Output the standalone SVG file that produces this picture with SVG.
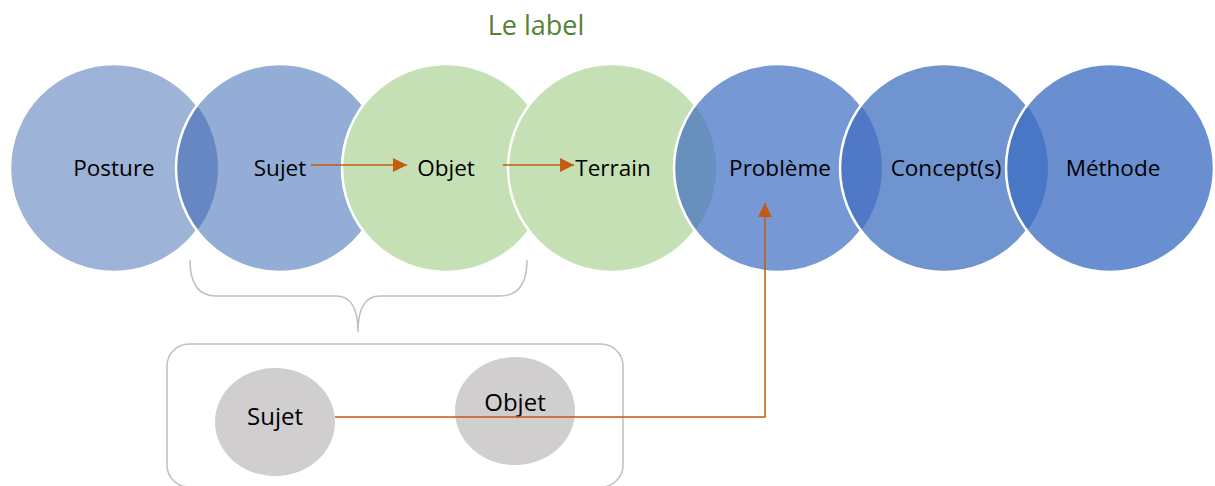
<svg xmlns="http://www.w3.org/2000/svg" width="1215" height="486" viewBox="0 0 1215 486">
<style>
.t{font-family:"Open Sans","Liberation Sans",sans-serif;font-size:22.5px;fill:#000;text-anchor:middle}
.ring{fill:none;stroke:#fff;stroke-width:2.5}
.conn{stroke:#C55A11;stroke-width:1.5;fill:none}
.gray{fill:none;stroke:#BFBFBF;stroke-width:1.5}
</style>
<defs>
<marker id="ah2" viewBox="0 0 10 10" refX="10" refY="5" markerWidth="14" markerHeight="14" markerUnits="userSpaceOnUse" orient="auto"><path d="M0,0 L10,5 L0,10 z" fill="#C55A11"/></marker>
<clipPath id="c2"><circle cx="280" cy="168" r="104"/></clipPath>
<clipPath id="c5"><circle cx="778" cy="168" r="104"/></clipPath>
<clipPath id="c6"><circle cx="944" cy="168" r="104"/></clipPath>
<clipPath id="c7"><circle cx="1110" cy="168" r="104"/></clipPath>
</defs>
<text x="536" y="35" style="font-family:'Open Sans','Liberation Sans',sans-serif;font-size:27px;fill:#548235;text-anchor:middle">Le label</text>
<g id="posture"><circle cx="114" cy="168" r="104" fill="#9DB3D8" stroke="#fff" stroke-width="2.5"/></g>
<g id="sujet"><circle cx="280" cy="168" r="104" fill="#94ADD7"/>
<circle cx="114" cy="168" r="104" fill="#6787C2" clip-path="url(#c2)"/>
<circle cx="280" cy="168" r="104" class="ring"/></g>
<g id="objet"><circle cx="446" cy="168" r="104" fill="#C5E0B4" stroke="#fff" stroke-width="2.5"/></g>
<g id="terrain"><circle cx="612" cy="168" r="104" fill="#C5E0B4" stroke="#fff" stroke-width="2.5"/></g>
<g id="probleme"><circle cx="778" cy="168" r="104" fill="#7698D4"/>
<circle cx="612" cy="168" r="104" fill="#6790BE" clip-path="url(#c5)"/>
<circle cx="778" cy="168" r="104" class="ring"/></g>
<g id="concepts"><circle cx="944" cy="168" r="104" fill="#7094D0"/>
<circle cx="778" cy="168" r="104" fill="#4F79C6" clip-path="url(#c6)"/>
<circle cx="944" cy="168" r="104" class="ring"/></g>
<g id="methode"><circle cx="1110" cy="168" r="104" fill="#6A8FD0"/>
<circle cx="944" cy="168" r="104" fill="#4A76C6" clip-path="url(#c7)"/>
<circle cx="1110" cy="168" r="104" class="ring"/></g>
<g id="labels">
<text class="t" x="114" y="176">Posture</text>
<text class="t" x="280" y="176">Sujet</text>
<text class="t" x="446" y="176">Objet</text>
<text class="t" x="613" y="176">Terrain</text>
<text class="t" x="780" y="176">Problème</text>
<text class="t" x="946" y="176">Concept(s)</text>
<text class="t" x="1113" y="176">Méthode</text>
</g>
<g id="brace"><path class="gray" d="M190,260 Q190,296 216,296 L336,296 Q358,296 358,332 Q358,296 380,296 L500,296 Q527,296 527,260"/></g>
<g id="group-box"><rect class="gray" x="167" y="344" width="456" height="143" rx="22" ry="22"/>
<g id="sujet2"><ellipse cx="275" cy="422" rx="60" ry="54" fill="#D0CECE"/><text class="t" x="275" y="425" style="font-size:24px">Sujet</text></g>
<g id="objet2"><ellipse cx="515" cy="411" rx="60" ry="54" fill="#D0CECE"/><text class="t" x="515" y="411" style="font-size:24px">Objet</text></g>
</g>
<g id="connectors">
<line class="conn" x1="311" y1="165" x2="407" y2="165" marker-end="url(#ah2)"/>
<line class="conn" x1="503" y1="165" x2="574" y2="165" marker-end="url(#ah2)"/>
<polyline class="conn" points="335,417 765,417 765,203" marker-end="url(#ah2)"/>
</g>
</svg>
